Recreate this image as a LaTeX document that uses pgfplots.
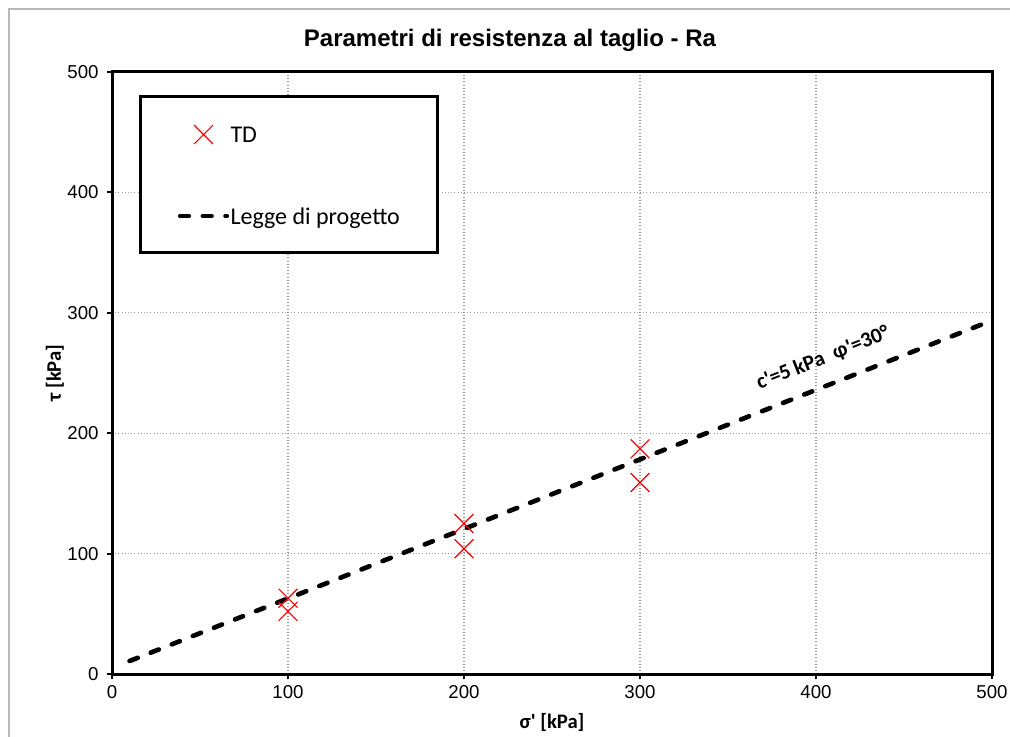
\documentclass[border=0pt]{standalone}
\usepackage{fontspec}
\setmainfont{Liberation Sans}
\newfontfamily\carlito{Carlito}[Ligatures=TeXOff]
\usepackage{pgfplots}
\pgfplotsset{compat=1.18}
\pgfplotsset{
  mylegx/.style={legend image code/.code={\path[draw=none] (0pt,0pt) -- (35pt,0pt);
    \draw[##1, only marks] plot coordinates {(17.5pt,0pt)};}},
  myleglin/.style={legend image code/.code={\draw[##1] (0pt,0pt) -- (35pt,0pt);}},
}
\begin{document}
\begin{tikzpicture}
\useasboundingbox (0,0) rectangle (757.5pt,552pt);
\draw[line width=1.5pt, black!28] (6.75pt,-2pt) -- (6.75pt,545.25pt) -- (760pt,545.25pt);
\node[font=\bfseries\fontsize{18}{21}\selectfont] at (382.5pt,522pt) {Parametri di resistenza al taglio - Ra};
\begin{axis}[
  at={(84pt,46.5pt)}, anchor=south west,
  scale only axis, width=660pt, height=451.5pt,
  xmin=0, xmax=500, ymin=0, ymax=500,
  xtick={0,100,...,500}, ytick={0,100,...,500},
  grid=major, major grid style={black!40, dotted, line width=0.8pt},
  axis line style={line width=2.25pt},
  tick style={black, line width=1.5pt},
  tick align=outside, major tick length=4pt,
  tick pos=left,
  ticklabel style={font=\fontsize{14}{16}\selectfont},
  yticklabel style={xshift=-2.5pt},
  xticklabel style={yshift=-1pt},
  /pgf/number format/assume math mode=true,
  xlabel={\carlito\bfseries σ' [kPa]},
  ylabel={\carlito\bfseries τ [kPa]},
  label style={font=\fontsize{15.5}{18}\selectfont},
  xlabel style={at={(axis description cs:0.5,-0.0797)}, anchor=center},
  ylabel style={at={(axis description cs:-0.0648,0.5)}, anchor=center},
  legend cell align=left,
  legend style={at={(axis description cs:0.0307,0.9618)}, anchor=north west,
    draw=black, line width=2.25pt, inner xsep=28pt, inner ysep=21.5pt,
    row sep=48pt, column sep=1pt,
    nodes={inner sep=0pt, text height=12pt, text depth=0pt},
    font=\carlito\fontsize{18}{21}\selectfont},
]
\addplot[only marks, mark=x, mark size=10pt, red, mark options={line width=0.9pt}, mylegx]
  coordinates {(100,63) (100,52) (200,125) (200,104) (300,187) (300,159)};
\addlegendentry{TD}
\addplot[black, line width=3.5pt, dash pattern=on 6.5pt off 10.5pt, line cap=round, myleglin]
  coordinates {(10,10.8) (500,293.7)};
\addlegendentry{Legge di progetto}
\node[rotate=21.5, font=\carlito\bfseries\fontsize{16}{19}\selectfont] at (axis cs:404,262) {c'=5 kPa\ \ φ'=30°};
\end{axis}
\end{tikzpicture}
\end{document}
